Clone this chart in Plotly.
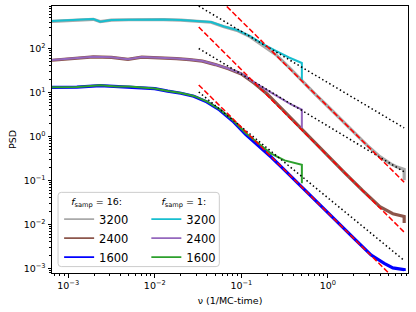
import plotly.graph_objects as go

# ---------------- data ----------------
# f_samp = 1 runs (end at nu = 0.5)
nu_fs1_3200 = [6.5e-4, 1.26e-3, 1.95e-3, 2.34e-3, 3.16e-3, 5.01e-3, 7.94e-3, 0.0126, 0.02, 0.0316,
               0.0447, 0.0631, 0.0891, 0.126, 0.178, 0.251, 0.355, 0.5, 0.5]
psd_fs1_3200 = [422, 445, 468, 406, 445, 452, 457, 457, 445, 422,
                400, 316, 263, 192, 126, 87.7, 62.4, 46.8, 19.2]

nu_fs1_2400 = [6.5e-4, 1.26e-3, 1.95e-3, 3.16e-3, 4.9e-3, 7.08e-3, 0.0112, 0.0178, 0.0251, 0.0355,
               0.0501, 0.0708, 0.1, 0.141, 0.2, 0.282, 0.38, 0.5, 0.5]
psd_fs1_2400 = [54.8, 60.8, 65.2, 63.1, 56.9, 64.1, 62.4, 59.3, 56.2, 52.0,
                43.3, 35.1, 26.9, 17.0, 11.2, 7.41, 5.25, 4.07, 1.55]

nu_fs1_1600 = [6.5e-4, 1.26e-3, 2.34e-3, 3.55e-3, 5.01e-3, 7.08e-3, 0.01, 0.0141, 0.02, 0.0282,
               0.0398, 0.0562, 0.0794, 0.112, 0.158, 0.224, 0.316, 0.398, 0.5, 0.5]
psd_fs1_1600 = [13.1, 13.3, 14.5, 13.7, 13.7, 13.0, 12.3, 10.8, 9.75, 8.32,
                6.24, 4.11, 2.37, 1.2, 0.692, 0.398, 0.285, 0.251, 0.225, 0.0863]

# f_samp = 16 runs (end near nu = 8)
nu_fs16_3200 = [6.5e-4, 1.26e-3, 1.95e-3, 2.34e-3, 3.16e-3, 5.01e-3, 7.94e-3, 0.0126, 0.02, 0.0316,
                0.0447, 0.0631, 0.0891, 0.126, 0.178, 0.251, 0.355, 0.5, 0.708, 1.0,
                1.41, 2.0, 2.82, 3.98, 5.25, 6.31, 7.6, 7.6]
psd_fs16_3200 = [415, 440, 460, 410, 440, 450, 455, 455, 440, 418,
                 395, 312, 258, 186, 117, 72.4, 37.2, 18.2, 9.33, 4.79,
                 2.45, 1.23, 0.631, 0.347, 0.24, 0.2, 0.178, 0.1]

nu_fs16_2400 = [6.5e-4, 1.26e-3, 1.95e-3, 3.16e-3, 4.9e-3, 7.08e-3, 0.0112, 0.0178, 0.0251, 0.0355,
                0.0501, 0.0708, 0.1, 0.141, 0.2, 0.282, 0.398, 0.631, 1.0, 1.585,
                2.51, 3.98, 5.62, 7.6, 7.6]
psd_fs16_2400 = [54.0, 60.0, 64.5, 62.5, 56.5, 63.5, 62.0, 59.0, 56.0, 51.5,
                 43.0, 34.5, 26.3, 16.2, 9.12, 4.57, 2.24, 0.891, 0.363, 0.145,
                 0.0589, 0.0251, 0.0174, 0.0151, 0.0107]

nu_fs16_1600 = [6.5e-4, 1.26e-3, 2.34e-3, 3.55e-3, 5.01e-3, 7.08e-3, 0.01, 0.0141, 0.02, 0.0282,
                0.0398, 0.0562, 0.0794, 0.112, 0.158, 0.224, 0.316, 0.5, 1.0, 2.0,
                3.16, 4.47, 5.62, 7.6, 7.6]
psd_fs16_1600 = [13.0, 13.2, 14.3, 13.6, 13.6, 12.9, 12.2, 10.7, 9.6, 8.2,
                 6.1, 4.0, 2.24, 1.12, 0.617, 0.331, 0.170, 0.0692, 0.0182, 0.00479,
                 0.0020, 0.00129, 0.00102, 0.000933, 0.00087]

# reference power-law guide lines (start / end values)
guide_nu = [0.0322, 7.6]
dotted_start = [919, 99.8, 10.25]
dotted_end = [1.56, 0.156, 0.00151]
dashed_start = [3855, 307, 14.8]
dashed_end = [0.091, 0.00664, 3.5e-4]

labels = ["3200", "2400", "1600"]
colors_fs16 = ["#a9a9a9", "#8c564b", "#0000ff"]
colors_fs1 = ["#17becf", "#9467bd", "#2ca02c"]

FONT = "DejaVu Sans"

fig = go.Figure()

fs16_series = [(nu_fs16_3200, psd_fs16_3200), (nu_fs16_2400, psd_fs16_2400), (nu_fs16_1600, psd_fs16_1600)]
fs1_series = [(nu_fs1_3200, psd_fs1_3200), (nu_fs1_2400, psd_fs1_2400), (nu_fs1_1600, psd_fs1_1600)]

for (nu, psd), lab, col in zip(fs16_series, labels, colors_fs16):
    fig.add_trace(go.Scatter(x=nu, y=psd, mode="lines", name=lab,
                             showlegend=False, line=dict(color=col, width=3.2)))
for (nu, psd), lab, col in zip(fs1_series, labels, colors_fs1):
    fig.add_trace(go.Scatter(x=nu, y=psd, mode="lines", name=lab,
                             showlegend=False, line=dict(color=col, width=2)))

for s, e in zip(dotted_start, dotted_end):
    fig.add_trace(go.Scatter(x=guide_nu, y=[s, e], mode="lines", showlegend=False,
                             line=dict(color="black", width=1.5, dash="1.5px,2.6px")))
for s, e in zip(dashed_start, dashed_end):
    fig.add_trace(go.Scatter(x=guide_nu, y=[s, e], mode="lines", showlegend=False,
                             line=dict(color="red", width=1.5, dash="5.5px,2.4px")))

# legend entries (thin line samples)
for lab, col in zip(labels, colors_fs16):
    fig.add_trace(go.Scatter(x=[None], y=[None], mode="lines", name=lab,
                             line=dict(color=col, width=1.8), legend="legend"))
for lab, col in zip(labels, colors_fs1):
    fig.add_trace(go.Scatter(x=[None], y=[None], mode="lines", name=lab,
                             line=dict(color=col, width=1.8), legend="legend2"))

def sup(e):
    return "10<sup>" + (str(e).replace("-", "\u2212")) + "</sup>"

x_major = [1e-3, 1e-2, 1e-1, 1]
y_major = [1e-3, 1e-2, 1e-1, 1, 10, 100]
x_minor = [m * 10.0 ** e for e in range(-4, 1) for m in range(2, 10)]
y_minor = [m * 10.0 ** e for e in range(-4, 3) for m in range(2, 10)]

axis_common = dict(type="log", showgrid=False, zeroline=False, showline=True, mirror=True,
                   linecolor="black", linewidth=1, ticks="outside", ticklen=3.5, tickwidth=0.8,
                   tickcolor="black", automargin=False,
                   tickfont=dict(family=FONT, size=9.5, color="black"))

fig.update_xaxes(**axis_common, range=[-3.187, 0.925], tickvals=x_major,
                 ticktext=[sup(-3), sup(-2), sup(-1), sup(0)],
                 minor=dict(tickvals=x_minor, ticks="outside", ticklen=2, tickwidth=0.6, tickcolor="black"),
                 title=dict(text="\u03bd (1/MC-time)", font=dict(family=FONT, size=9.5, color="black"), standoff=7))
fig.update_yaxes(**axis_common, range=[-3.107, 2.966], tickvals=y_major,
                 ticktext=[sup(-3), sup(-2), sup(-1), sup(0), sup(1), sup(2)],
                 minor=dict(tickvals=y_minor, ticks="outside", ticklen=2, tickwidth=0.6, tickcolor="black"),
                 title=dict(text="PSD", font=dict(family=FONT, size=9.5, color="black"), standoff=5))

# legend frame (rounded, light gray)
x0, x1, y0, y1 = 0.017, 0.470, 0.024, 0.302
rx, ry = 0.009, 0.012
path = (f"M {x0+rx},{y0} L {x1-rx},{y0} Q {x1},{y0} {x1},{y0+ry} L {x1},{y1-ry} "
        f"Q {x1},{y1} {x1-rx},{y1} L {x0+rx},{y1} Q {x0},{y1} {x0},{y1-ry} "
        f"L {x0},{y0+ry} Q {x0},{y0} {x0+rx},{y0} Z")
fig.add_shape(type="path", path=path, xref="paper", yref="paper",
              line=dict(color="#cccccc", width=1), fillcolor="rgba(255,255,255,0.8)", layer="above")

legend_common = dict(bgcolor="rgba(0,0,0,0)", borderwidth=0, yanchor="top", xanchor="left",
                     font=dict(family=FONT, size=11.5, color="black"), tracegroupgap=0,
                     itemwidth=30)
fig.update_layout(
    width=416, height=312,
    margin=dict(l=52, r=8, t=6, b=39, autoexpand=False),
    paper_bgcolor="white", plot_bgcolor="white",
    legend=dict(**legend_common, x=0.02, y=0.302,
                title=dict(text="<i>f</i><sub>samp</sub> = 16:", side="top center",
                           font=dict(family=FONT, size=9.5, color="black"))),
    legend2=dict(**legend_common, x=0.265, y=0.302,
                 title=dict(text="<i>f</i><sub>samp</sub> = 1:", side="top center",
                            font=dict(family=FONT, size=9.5, color="black"))),
)

fig.write_html("out.html", config={"displayModeBar": False},
               post_script="document.body.style.margin='0px';")
